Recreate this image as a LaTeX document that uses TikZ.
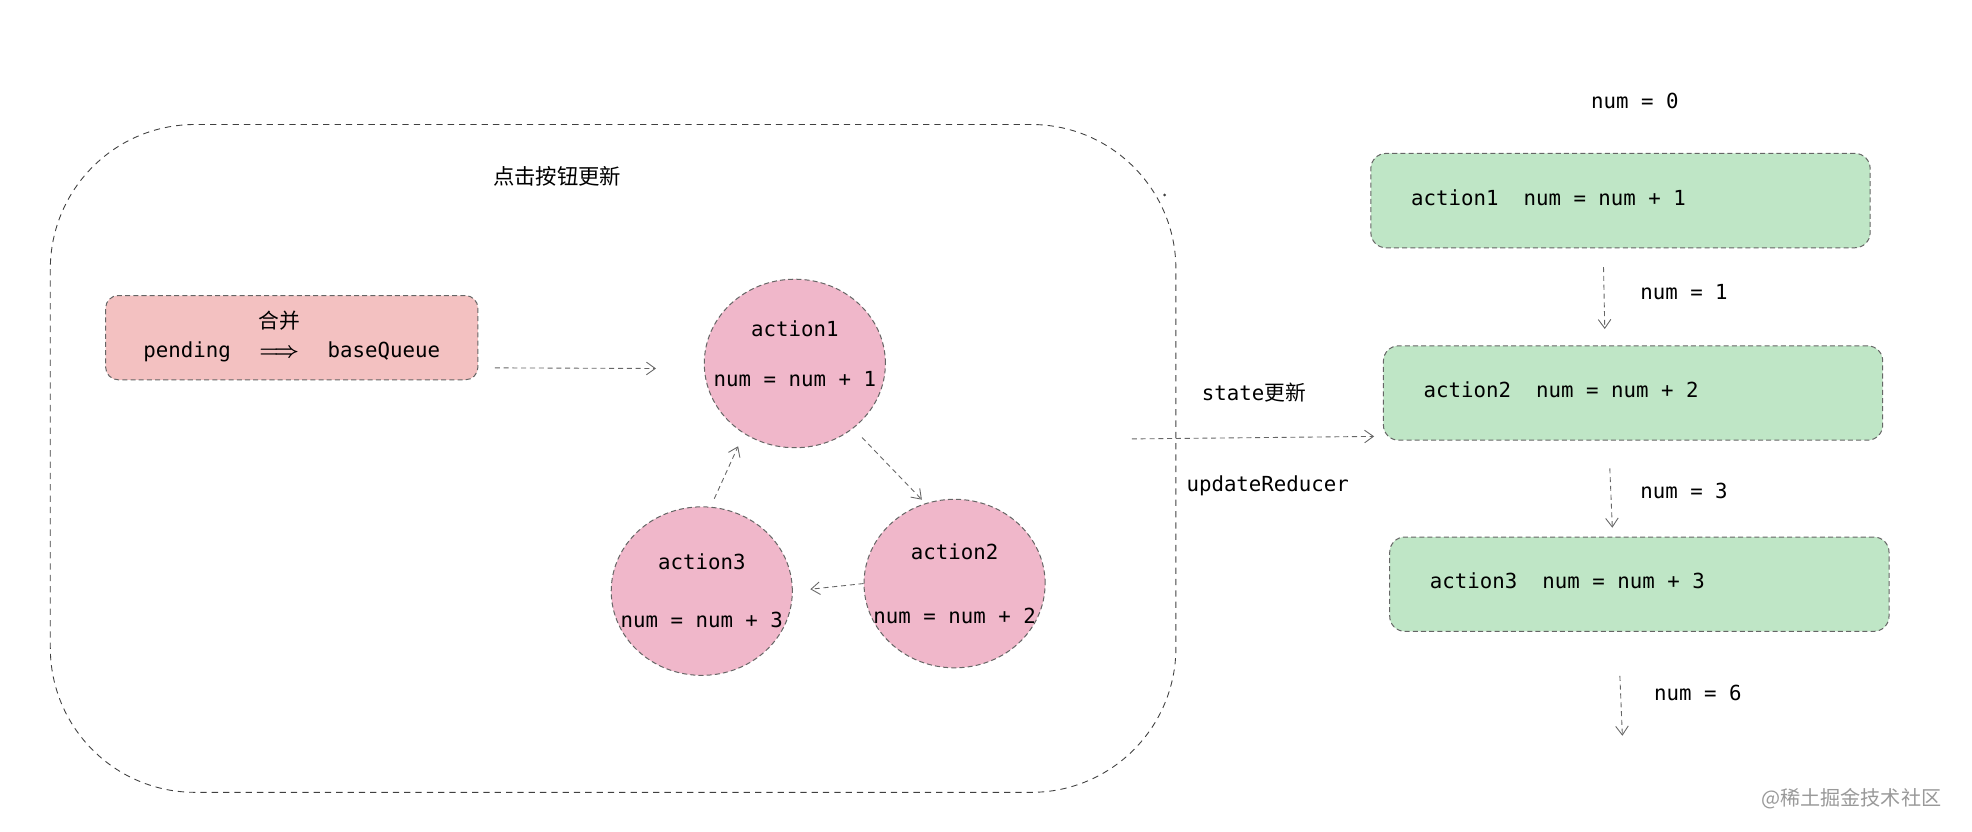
\documentclass[tikz,border=0pt]{standalone}
\usepackage{fontspec}
\setmonofont{DejaVu Sans Mono}
\newfontfamily\cjk{Noto Sans CJK SC}
\usepackage{tikz}
\usetikzlibrary{calc,arrows.meta,shapes.geometric}
\definecolor{pendfill}{HTML}{F3C1C1}
\definecolor{actfill}{HTML}{F0B7CA}
\definecolor{queuefill}{HTML}{BFE6C6}
\definecolor{edgegray}{HTML}{666666}

\begin{document}
\begin{tikzpicture}[x=1pt,y=-1pt,
		font=\fontsize{16.5}{20}\selectfont\ttfamily,
		dashbox/.style={draw=edgegray, dash pattern=on 4pt off 2.5pt, line width=0.8pt},
		flow/.style={draw=edgegray, dash pattern=on 4pt off 3pt, line width=0.7pt, -{Straight Barb[length=7pt,width=10pt]}},
		actnode/.style={dashbox, ellipse, fill=actfill, minimum width=144pt, minimum height=134pt, inner xsep=-16pt, inner ysep=0pt, align=center, font=\fontsize{16.5}{40}\selectfont\ttfamily},
		queuebox/.style={dashbox, rounded corners=12pt, fill=queuefill, minimum width=397pt, minimum height=75pt, inner xsep=32pt}]
			\useasboundingbox (0,0) rectangle (1568,661);
			% click area
			\draw[black!75, dash pattern=on 5pt off 4pt, line width=0.7pt, rounded corners=115pt] (40,99) rectangle (935,630);
			\fill[black!75] (926,155) circle (1.2pt);
			\node[font=\fontsize{17}{20}\selectfont\cjk] (title) at (443,140) {点击按钮更新};
			\node[dashbox, rounded corners=10pt, fill=pendfill, minimum width=296pt, minimum height=67pt] (pend) at (232,268.5) {pending\hspace{22pt}\begin{tabular}[b]{@{}c@{}}{\cjk 合并}\\[3pt]{\boldmath$\Longrightarrow$}\end{tabular}\hspace{22pt}baseQueue};
			\node[actnode] (a1) at (632,289) {action1\\num = num + 1\\[-24pt]\mbox{}};
			\node[actnode] (a2) at (759,464) {action2\\[11pt]num = num + 2};
			\node[actnode] (a3) at (558,470) {action3\\[6pt]num = num + 3};
			\draw[flow] ([xshift=13pt,yshift=-24pt]pend.east) -- ([xshift=-38pt,yshift=-4pt]a1.west);
			\draw[flow, shorten <=10pt, shorten >=4pt] (a1.-48) -- (a2.110);
			\draw[flow, shorten >=14pt] (a2.west) -- (a3.east);
			\draw[flow, shorten <=7pt, shorten >=11pt] (a3.84) -- (a1.-126);
			% state update
			\node (st) at (997,312) {state{\cjk 更新}};
			\node (ur) at (1008,386) {updateReducer};
			\node (n0) at (1300,80) {num = 0};
			\node[queuebox] (g1) at (1288.5,159.5) {\makebox[333pt][l]{\raisebox{5pt}{action1\ \ num = num + 1}}};
			\node[queuebox] (g2) at (1298.5,312.5) {\makebox[333pt][l]{\raisebox{5pt}{action2\ \ num = num + 2}}};
			\node[queuebox] (g3) at (1303.5,464.5) {\makebox[333pt][l]{\raisebox{5pt}{action3\ \ num = num + 3}}};
			\node (n1) at (1339,232) {num = 1};
			\node (n3) at (1339,390) {num = 3};
			\node (n6) at (1350,551) {num = 6};
			\coordinate (su) at (900,349);
			\coordinate (endq) at (1290,585);
			\draw[flow] (su) -- ([xshift=-7pt,yshift=-34.5pt]g2.west);
			\draw[flow] ([xshift=-13.5pt,yshift=-15pt]g1.south) -- ([xshift=-22.5pt,yshift=13pt]g2.north);
			\draw[flow] ([xshift=-18.5pt,yshift=-22pt]g2.south) -- ([xshift=-21.5pt,yshift=7pt]g3.north);
			\draw[flow] ([xshift=-15.5pt,yshift=-35pt]g3.south) -- (endq);
			\node[text=black!40, font=\fontsize{16}{18}\selectfont\cjk] (wm) at (1472,635) {@稀土掘金技术社区};
		\end{tikzpicture}
\end{document}
